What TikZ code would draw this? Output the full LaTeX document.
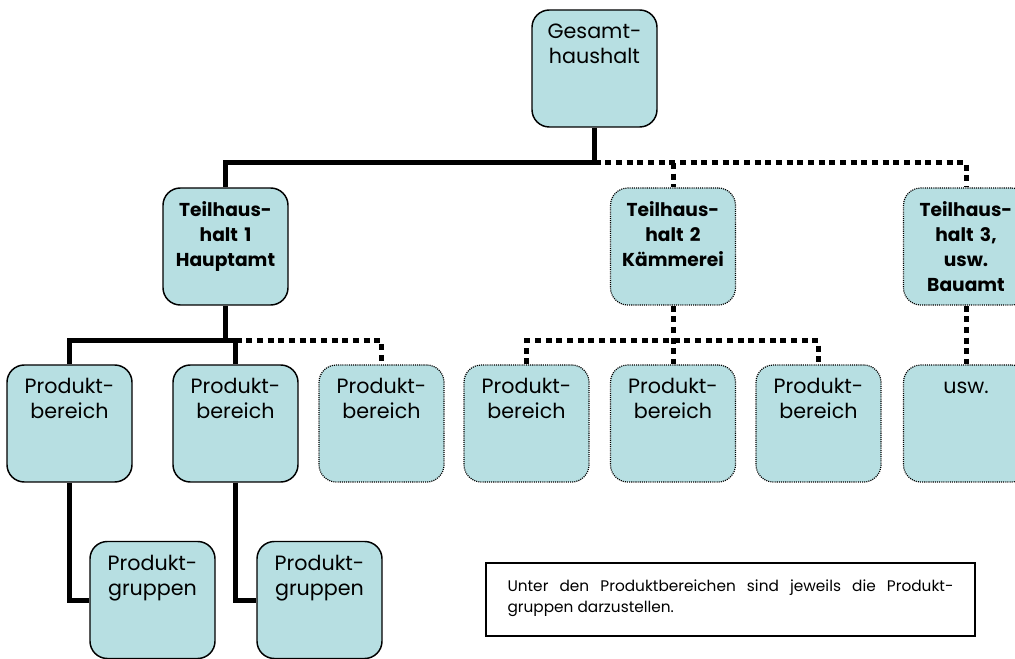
\documentclass[tikz,border=0pt]{standalone}
\usepackage{fontspec}
\setmainfont{Poppins}
\definecolor{boxfill}{RGB}{183,223,226}

\begin{document}
\begin{tikzpicture}[x=0.75pt, y=-0.75pt,
    box/.style={draw, line width=1.1pt, rounded corners=13pt, fill=boxfill, inner sep=0pt,
      text width=93.75pt, align=center, text height=21.75pt, text depth=66pt,
      font=\fontsize{15.5}{18.75}\selectfont},
    openbox/.style={box, line width=0.9pt, dash pattern=on 0.8pt off 0.8pt},
    headfont/.style={font=\fontsize{14}{18.75}\selectfont\bfseries},
    link/.style={line width=3.75pt},
    dotlink/.style={line width=3.75pt, dash pattern=on 4.5pt off 3.5pt}]
  \useasboundingbox (0,0) rectangle (1015,659);
  \clip (0,0) rectangle (1015,659);

  % top level
  \node[box] (gesamt) at (594.5,68.5) {Gesamt-\\haushalt};

  % Teilhaushalte
  \node[box, headfont] (th1) at (225.5,246.5) {Teilhaus-\\halt 1\\Hauptamt};
  \node[openbox, headfont] (th2) at (673,246.5) {Teilhaus-\\halt 2\\Kämmerei};
  \node[openbox, headfont] (th3) at (966,246.5) {Teilhaus-\\halt 3,\\usw.\\Bauamt};

  % Produktbereiche
  \node[box] (pb1) at (69.5,423.5) {Produkt-\\bereich};
  \node[box] (pb2) at (235.5,423.5) {Produkt-\\bereich};
  \node[openbox] (pb3) at (381.5,423.5) {Produkt-\\bereich};
  \node[openbox] (pb4) at (526.5,423.5) {Produkt-\\bereich};
  \node[openbox] (pb5) at (673,423.5) {Produkt-\\bereich};
  \node[openbox] (pb6) at (818.5,423.5) {Produkt-\\bereich};
  \node[openbox] (usw) at (966,423.5) {usw.};

  % Produktgruppen
  \node[box] (pg1) at (152.5,600) {Produkt-\\gruppen};
  \node[box] (pg2) at (319.5,600) {Produkt-\\gruppen};

  % Hinweis
  \node[draw, line width=1.1pt, inner xsep=16pt, inner ysep=0pt, text width=334.5pt,
    align=justify, text height=21pt, text depth=33.75pt,
    font=\fontsize{11.5}{15.75}\selectfont] (note) at (730.5,599.5)
    {Unter den Produktbereichen sind jeweils die Produkt-\linebreak gruppen darzustellen.};

  % Verbindungen
  \coordinate (bus1) at (0,163);
  \coordinate (bus2) at (0,341);
  \draw[link] (gesamt.south) -- (gesamt.south |- bus1) -| (th1.north);
  \draw[dotlink] (gesamt.south |- bus1) -| (th3.north);
  \draw[dotlink] (th2.north |- bus1) -- (th2.north);

  \draw[link] (th1.south) -- (th1.south |- bus2) -| (pb1.north);
  \draw[link] (th1.south |- bus2) -| (pb2.north);
  \draw[dotlink] (pb2.north |- bus2) -| (pb3.north);

  \draw[dotlink] (th2.south) -- (pb5.north);
  \draw[dotlink] (pb4.north) |- (pb6.north |- bus2) -- (pb6.north);
  \draw[dotlink] (th3.south) -- (usw.north);

  \draw[link] (pb1.south) |- (pg1.west);
  \draw[link] (pb2.south) |- (pg2.west);
\end{tikzpicture}
\end{document}
